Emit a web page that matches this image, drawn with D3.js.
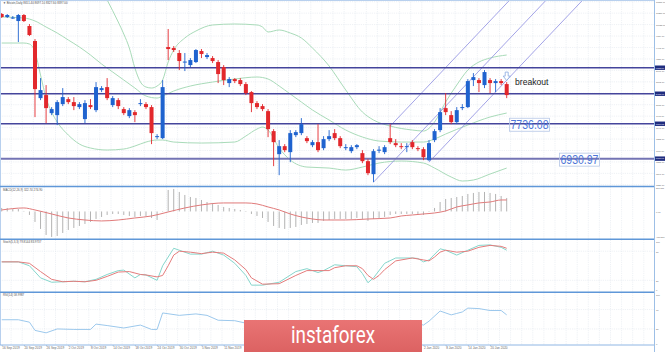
<!DOCTYPE html>
<html><head><meta charset="utf-8">
<script src="https://cdn.jsdelivr.net/npm/d3@7"></script>
<style>html,body{margin:0;padding:0;background:#fff;overflow:hidden}svg{display:block}</style>
</head><body><svg id="c" width="665" height="352"></svg>
<script>
// ---- candles (weekday bars, 16 Sep 2019 .. 23 Jan 2020)
const openP=[10267,10198,10175,10105,10244,9990,9644,8327,8397,7981,7935,8189,8304,8235,8120,7843,8166,8050,8512,8581,8166,8281,8074,7912,8004,8189,8189,8120,7427,7404,9505,9482,9367,9147,9089,9159,9413,9274,9251,9159,9043,8674,8766,8743,8651,8466,8212,8143,8027,7566,7035,7219,7081,7473,7520,7404,7242,7312,7173,7381,7520,7404,7173,7104,7196,7058,6873,6573,7115,7081,7404,7289,7219,7196,7312,7173,7150,6896,7358,7589,8097,7935,7773,8097,8120,8743,8743,8628,8743,8674,8720,8651];
const highP=[10290,10267,10221,10267,10267,10036,9690,8789,8628,8120,8281,8558,8351,8351,8235,8281,8304,8697,8605,8789,8374,8327,8120,8097,8050,8304,8235,8166,7496,8743,9921,9528,9436,9367,9251,9459,9459,9367,9297,9205,9089,8812,8789,8789,8697,8489,8258,8189,8074,7612,7358,7266,7589,7589,7866,7450,7358,7727,7450,7589,7612,7450,7266,7242,7266,7127,6919,7150,7219,7242,7727,7381,7289,7289,7358,7219,7196,7358,7612,8097,8443,8027,8120,8189,8766,8905,8789,8974,8789,8766,8766,8697];
const lowP=[10175,10175,10152,9621,10082,9759,7889,8281,7750,7935,7704,8143,8189,8050,8074,7750,8074,8004,8466,8281,8120,8074,7935,7866,7773,8143,8074,7266,7381,7381,9205,9390,8974,8951,9043,9136,9251,9228,9136,8674,8628,8581,8674,8605,8397,8004,8074,8027,7427,6758,6550,7081,6850,7427,7473,7289,7196,7081,7127,7335,7358,7173,7127,7058,7150,6827,6550,6388,7058,7035,7266,7196,7150,7081,7150,7104,6896,6873,7312,7543,7935,7727,7727,8050,8097,8605,8466,8558,8443,8466,8628,8327];
const closeP=[10198,10244,10186,10244,10105,9782,8535,8512,8097,8074,8235,8351,8235,8143,8189,8212,8120,8581,8558,8327,8327,8143,7981,8050,7935,8212,8120,7520,7450,8581,9459,9436,9182,9170,9205,9436,9344,9320,9182,8882,8743,8766,8720,8651,8443,8212,8120,8074,7612,7312,7219,7127,7520,7543,7727,7335,7312,7127,7381,7450,7404,7219,7196,7196,7242,6873,6596,7104,7138,7196,7312,7242,7196,7219,7196,7150,6965,7289,7566,8004,8004,7773,8050,8120,8720,8812,8674,8928,8674,8720,8674,8397];

// ---- Bollinger bands (read at sample bars)
const bbUpIdx=[0,5,8,12,16,19,21,22,23,24,25,26,27,28,29,30,31,33,35,38,42,46,47,48,50,52,54,56,59,62,65,67,70,74,76,78,80,82,84,86,88,91];
const bbUpVal=[10730,10760,11900,12000,11280,10590,10083,9806,9483,9021,8699,8583,8560,8606,8745,9160,9437,9714,9875,10014,10037,10014,9967,9852,9898,9829,9714,9483,9068,8514,8006,7822,7683,7591,7568,7776,8237,8629,8975,9160,9252,9321];
const bbMidIdx=[0,4,6,8,10,12,14,16,18,20,22,24,26,28,29,31,34,38,42,46,48,50,52,54,56,59,62,65,68,72,76,78,80,84,88,91];
const bbMidVal=[10198,10175,10106,9967,9829,9668,9506,9321,9114,8929,8745,8560,8375,8329,8375,8491,8606,8698,8768,8814,8768,8606,8422,8237,8053,7822,7591,7430,7337,7314,7314,7384,7499,7707,7891,7983];
const bbLoIdx=[0,4,5,6,7,8,9,10,12,14,16,19,22,24,26,28,29,31,36,42,44,46,47,48,50,52,55,59,62,65,68,72,76,78,81,83,85,88,91];
const bbLoVal=[9598,9598,9575,9391,8860,8329,8006,7776,7476,7268,7176,7130,7153,7222,7314,7360,7360,7314,7291,7314,7453,7614,7660,7591,7176,6899,6737,6714,6668,6737,6830,6876,6830,6714,6507,6415,6438,6576,6714];

// ---- levels, pitchfork, annotations
const levels=[9028.60,8428.40,7736.08,6930.97];
const levelTags=["9028.60","8428.40","7736.08","6930.97"];
const pfIdx=[67,70,77];
const pfPrice=[6388,7681,6850];
const calloutText=["7736.08","6930.97"];
const calloutIdx=[91.6,100.6];
const arrowIdx=91, arrowPrice=8743;

// ---- price axis
const priceTicks=[10551.1,10287.1,10023.1,9759.1,9495.1,9231.1,8967.1,8703.1,8439.1,8175.1,7911.1,7647.1,7383.1,7119.1,6855.1,6591.1,6327.1];

// ---- MACD
const macdMain=[84,84,60,60,12,-84,-251,-419,-563,-610,-587,-515,-443,-395,-347,-299,-251,-180,-132,-84,-60,-60,-84,-108,-132,-108,-108,-156,-204,-12,515,539,467,395,347,323,275,227,204,156,108,84,60,36,-12,-60,-108,-156,-251,-347,-395,-419,-395,-371,-323,-299,-275,-275,-227,-204,-180,-180,-180,-180,-156,-180,-227,-180,-156,-132,-84,-60,-60,-60,-60,-60,-84,-12,84,227,299,323,347,371,419,443,467,467,443,419,371,323];
const macdSigIdx=[0,4,6,9,12,15,18,21,24,27,30,33,36,40,44,46,48,50,52,54,56,58,62,66,70,72,74,76,78,80,82,84,86,88,90,91];
const macdSigVal=[36,84,36,-60,-156,-204,-227,-204,-156,-108,-12,84,156,204,204,180,108,36,-60,-132,-180,-204,-204,-180,-156,-108,-84,-60,-36,12,108,156,204,227,275,275];
const macdTicks=[561.811,0,-611.279];
const macdTickLabels=["561.811","0.00","-611.279"];

// ---- Stochastic
const stKIdx=[0,3,5,7,9,11,13,15,17,19,21,22,24,25,26,28,29,31,32,34,36,38,40,42,44,45,47,50,53,55,56,57,58,60,62,64,65,66,67,69,71,74,75,76,77,79,80,82,84,86,88,90,91];
const stKVal=[58,58,50,25,16,17,18,17,22,32,40,41,25,32,31,20,50,86,82,74,74,80,72,55,30,10,10,16,38,44,40,36,40,52,50,48,34,15,25,55,66,66,65,58,62,85,82,72,82,92,93,88,82];
const stDIdx=[0,3,5,7,9,11,13,15,17,19,21,23,25,26,28,29,30,31,32,34,36,38,40,42,44,45,47,50,53,55,57,59,60,62,64,65,66,67,68,69,71,74,76,77,78,79,80,82,84,86,88,90,91];
const stDVal=[58,58,55,38,22,17,18,17,20,28,37,38,32,31,27,30,50,72,80,78,75,78,76,62,42,25,12,13,30,40,40,40,46,50,50,44,30,22,30,42,60,66,62,60,68,78,82,78,80,88,92,90,86];
const stTicks=[100,80,20,0];

// ---- RSI
const rsiIdx=[0,3,5,6,8,10,13,16,17,19,22,25,27,28,29,32,35,37,39,42,44,46,48,50,52,54,56,58,60,62,64,66,67,69,71,73,75,76,77,79,81,82,83,84,86,88,90,91];
const rsiVal=[49,49,44,27,22,30,29,29,40,37,32,38,29,29,63,58,61,58,48,47,42,38,30,28,38,42,40,44,42,40,41,32,42,44,42,42,41,38,46,67,59,62,65,73,72,68,68,59];
const rsiTicks=[100,70,30,0];

// ---- dates (labels hidden by the watermark are not shown)
const dateIdx=[0,4,8,12,16,20,24,28,32,36,40,76,80,84,88];
const dateLabels=["16 Sep 2019","20 Sep 2019","26 Sep 2019","2 Oct 2019","8 Oct 2019","14 Oct 2019","18 Oct 2019","24 Oct 2019","30 Oct 2019","5 Nov 2019","11 Nov 2019","2 Jan 2020","8 Jan 2020","14 Jan 2020","20 Jan 2020"];

// ================= drawing =================
const svg=d3.select("#c");
const W=665, AX=654;
const x=d3.scaleLinear().domain([0,91]).range([1.7,506.7]);
const yM=d3.scaleLinear().domain([6323.1,10551.1]).range([185,1.7]);
const yMacd=d3.scaleLinear().domain([-611.279,561.811]).range([237,188]);
const yS=d3.scaleLinear().domain([0,100]).range([290,241.5]);
const yR=d3.scaleLinear().domain([0,100]).range([343.5,295]);
const panels=[[0,186],[187,238.5],[240,291.5],[293,344.5]];
const font="'Liberation Sans',Arial,sans-serif";
const AXF=2.3;

svg.append("rect").attr("width",W).attr("height",352).attr("fill","#fff");
const defs=svg.append("defs");
panels.forEach((p,i)=>defs.append("clipPath").attr("id","cp"+i).append("rect")
  .attr("x",0).attr("y",p[0]).attr("width",AX).attr("height",p[1]-p[0]));
const gr=defs.append("linearGradient").attr("id","ig").attr("x1",0).attr("y1",0).attr("x2",0).attr("y2",1);
gr.append("stop").attr("offset",0).attr("stop-color","#e97474");
gr.append("stop").attr("offset",1).attr("stop-color","#dc6262");

// grid
const grid=svg.append("g").attr("stroke","#e3e8ef").attr("stroke-width",0.6).attr("stroke-dasharray","1.2,1");
for(let k=1;k*11.1<AX;k++){
  grid.append("line").attr("x1",k*11.1).attr("x2",k*11.1).attr("y1",0).attr("y2",344.5);
}
priceTicks.forEach(v=>grid.append("line").attr("x1",0).attr("x2",AX).attr("y1",yM(v)).attr("y2",yM(v)));
[80,20].forEach(v=>grid.append("line").attr("x1",0).attr("x2",AX).attr("y1",yS(v)).attr("y2",yS(v)));
[70,30].forEach(v=>grid.append("line").attr("x1",0).attr("x2",AX).attr("y1",yR(v)).attr("y2",yR(v)));

// main panel
const gm=svg.append("g").attr("clip-path","url(#cp0)");
const bandLine=(idx,val)=>d3.line().curve(d3.curveMonotoneX).x(d=>x(d)).y((d,i)=>yM(val[i]))(idx);
[[bbUpIdx,bbUpVal],[bbMidIdx,bbMidVal],[bbLoIdx,bbLoVal]].forEach(b=>{
  gm.append("path").attr("d",bandLine(b[0],b[1])).attr("fill","none").attr("stroke","#a9dbb9").attr("stroke-width",1);
});

// pitchfork
const P=pfIdx.map((d,i)=>[x(d),yM(pfPrice[i])]);
const mid=[(P[1][0]+P[2][0])/2,(P[1][1]+P[2][1])/2];
const slope=(mid[1]-P[0][1])/(mid[0]-P[0][0]);
P.forEach(p=>{
  const yEnd=-5, xEnd=p[0]+(yEnd-p[1])/slope;
  gm.append("line").attr("x1",p[0]).attr("y1",p[1]).attr("x2",xEnd).attr("y2",yEnd)
    .attr("stroke","#9a9ae4").attr("stroke-width",0.9);
});

// horizontal levels
levels.forEach((v,i)=>{
  gm.append("line").attr("x1",0).attr("x2",AX).attr("y1",yM(v)).attr("y2",yM(v))
    .attr("stroke",i===3?"#7474b4":"#45459c").attr("stroke-width",i===3?2:1.4);
});

// candles
const idxs=d3.range(openP.length);
const up="#1f63cf", dn="#e2282c";
const cg=gm.append("g");
idxs.forEach(i=>{
  const c=closeP[i]>=openP[i]?up:dn;
  cg.append("line").attr("x1",x(i)).attr("x2",x(i)).attr("y1",yM(highP[i])).attr("y2",yM(lowP[i]))
    .attr("stroke",c).attr("stroke-width",0.9);
  const t=yM(Math.max(openP[i],closeP[i])), b=yM(Math.min(openP[i],closeP[i]));
  cg.append("rect").attr("x",x(i)-2).attr("width",4).attr("y",t).attr("height",Math.max(1,b-t)).attr("fill",c);
});

// arrow + breakout text
const ax=x(arrowIdx), ay=yM(arrowPrice);
gm.append("path").attr("d",`M${ax-1.5},${ay-8}h3v4h2l-3.5,4.5l-3.5,-4.5h2z`)
  .attr("fill","#fff").attr("stroke","#88a8e0").attr("stroke-width",0.8);
gm.append("text").attr("x",515).attr("y",85).attr("font-family",font).attr("font-size",8.6).attr("fill","#222").text("breakout");

// callouts
calloutText.forEach((t,i)=>{
  const cx=x(calloutIdx[i]), cy=yM(levels[i+2]);
  gm.append("rect").attr("x",cx-0.5).attr("y",cy-5.5).attr("width",40).attr("height",13)
    .attr("fill","none").attr("stroke","#b5c6e6").attr("stroke-width",0.8);
  gm.append("text").attr("x",cx+19.5).attr("y",cy+5).attr("text-anchor","middle")
    .attr("font-family",font).attr("font-size",12).attr("fill","#4d76d8")
    .attr("textLength",38).attr("lengthAdjust","spacingAndGlyphs").text(t);
});

// MACD
const gmc=svg.append("g").attr("clip-path","url(#cp1)");
idxs.forEach(i=>gmc.append("line").attr("x1",x(i)).attr("x2",x(i)).attr("y1",yMacd(0)).attr("y2",yMacd(macdMain[i]))
  .attr("stroke","#b3b3b3").attr("stroke-width",1));
gmc.append("path").attr("d",d3.line().curve(d3.curveMonotoneX).x(d=>x(d)).y((d,i)=>yMacd(macdSigVal[i]))(macdSigIdx))
  .attr("fill","none").attr("stroke","#e07a7a").attr("stroke-width",1);

// Stochastic
const gs=svg.append("g").attr("clip-path","url(#cp2)");
gs.append("path").attr("d",d3.line().x(d=>x(d)).y((d,i)=>yS(stKVal[i]))(stKIdx)).attr("fill","none").attr("stroke","#86d6cc").attr("stroke-width",1);
gs.append("path").attr("d",d3.line().x(d=>x(d)).y((d,i)=>yS(stDVal[i]))(stDIdx)).attr("fill","none").attr("stroke","#e47c7c").attr("stroke-width",1);

// RSI
const grs=svg.append("g").attr("clip-path","url(#cp3)");
grs.append("path").attr("d",d3.line().x(d=>x(d)).y((d,i)=>yR(rsiVal[i]))(rsiIdx)).attr("fill","none").attr("stroke","#9cc8ec").attr("stroke-width",1);

// frame & separators
const fr=svg.append("g");
fr.append("line").attr("x1",AX+0.5).attr("x2",AX+0.5).attr("y1",0).attr("y2",352).attr("stroke","#9dbfe6").attr("stroke-width",1);
fr.append("line").attr("x1",0.5).attr("x2",0.5).attr("y1",0).attr("y2",345).attr("stroke","#b8d0ee").attr("stroke-width",1);
fr.append("line").attr("x1",0).attr("x2",AX).attr("y1",0.5).attr("y2",0.5).attr("stroke","#b8d0ee").attr("stroke-width",1);
[186.5,239.3,292.3].forEach(y=>fr.append("line").attr("x1",0).attr("x2",AX).attr("y1",y).attr("y2",y).attr("stroke","#5f97d8").attr("stroke-width",1.5));
fr.append("line").attr("x1",0).attr("x2",AX).attr("y1",345).attr("y2",345).attr("stroke","#8fb6e4").attr("stroke-width",1);

// axes
const rAxis=(sc,vals,labs)=>{
  const a=d3.axisRight(sc).tickValues(vals).tickSize(0).tickPadding(0).tickFormat((d,i)=>labs[i]);
  const g=svg.append("g").attr("transform",`translate(${AX+1},0)`).call(a);
  g.select(".domain").remove();
  g.selectAll("text").attr("font-family",font).attr("font-size",AXF).attr("fill","#666").attr("x",1).attr("dy","0.35em");
  return g;
};
rAxis(yM,priceTicks,priceTicks.map(v=>v.toFixed(2)));
rAxis(yMacd,macdTicks,macdTickLabels);
rAxis(yS,stTicks,stTicks.map(String));
rAxis(yR,rsiTicks,rsiTicks.map(String));
// level tags on axis
levels.forEach((v,i)=>{
  svg.append("rect").attr("x",AX+1).attr("y",yM(v)-2.2).attr("width",10).attr("height",4.4).attr("fill","#1f2d80");
  svg.append("text").attr("x",AX+1.8).attr("y",yM(v)+0.8).attr("font-family",font).attr("font-size",AXF).attr("fill","#fff").text(levelTags[i]);
});
// dates
const bA=d3.axisBottom(x).tickValues(dateIdx).tickSize(1.2).tickFormat((d,i)=>dateLabels[i]);
const bg=svg.append("g").attr("transform","translate(0,345)").call(bA);
bg.select(".domain").remove();
bg.selectAll("line").attr("stroke","#9dbfe6");
bg.selectAll("text").attr("font-family",font).attr("font-size",3.1).attr("fill","#666").attr("text-anchor","start").attr("y",2.2).attr("dy","0.71em");

// panel titles
const tt=[["▼ Bitcoin,Daily 8651.40 8697.10 8327.60 8397.00",4.3],["MACD(12,26,9) 322.74 274.90",190.6],["Stoch(5,3,3) 79.8144 83.9737",243.4],["RSI(14) 58.9987",296.4]];
tt.forEach(t=>svg.append("text").attr("x",3).attr("y",t[1]).attr("font-family",font).attr("font-size",2.9).attr("fill","#555").text(t[0]));

// instaforex watermark
svg.append("rect").attr("x",244).attr("y",320).attr("width",178).attr("height",32).attr("fill","url(#ig)");
svg.append("text").attr("x",333).attr("y",343).attr("text-anchor","middle").attr("font-family","'Liberation Sans Narrow','Roboto',sans-serif")
  .attr("font-size",23).attr("fill","#fff").attr("textLength",84).attr("lengthAdjust","spacingAndGlyphs").text("instaforex");
</script></body></html>
